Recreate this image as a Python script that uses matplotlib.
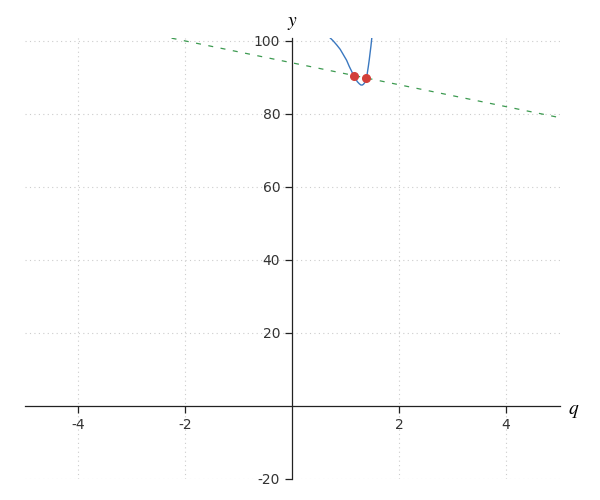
import numpy as np
import matplotlib
matplotlib.use("Agg")
import matplotlib.pyplot as plt

plt.rcParams['mathtext.fontset'] = 'stix'
plt.rcParams['axes.unicode_minus'] = False

# curve
q_curve = [0.70, 0.77, 0.835, 0.90, 0.96, 1.02, 1.07, 1.11, 1.146, 1.185, 1.22, 1.255,
           1.284, 1.31, 1.333, 1.36, 1.383, 1.405, 1.426, 1.443, 1.458, 1.475, 1.49]
y_curve = [101.0, 100.0, 98.9, 97.7, 96.2, 94.7, 93.0, 91.8, 90.7, 89.7, 88.85, 88.3,
           87.95, 87.9, 88.1, 88.6, 89.3, 91.0, 93.0, 94.8, 96.6, 98.6, 100.7]

# dashed straight line (end points)
q_line = [-5.0, 5.0]
y_line = [109.0, 79.0]

# marked intersection points
q_pts = [1.16, 1.383]
y_pts = [90.5, 89.85]

xticks = [-4, -2, 2, 4]
yticks = [-20, 20, 40, 60, 80, 100]

fig = plt.figure(figsize=(6, 5), dpi=100)
axes = fig.add_axes([0.041, 0.042, 0.8915, 0.882])

axes.plot(q_line, y_line, color='#3c9a50', lw=0.9, dashes=(4, 6))
axes.plot(q_curve, y_curve, color='#3a78c0', lw=1.0)
axes.plot(q_pts, y_pts, 'o', color='#d23f3a', ms=5.5, zorder=5)

axes.set_xlim([-5, 5])
axes.set_ylim([-20, 100.8])
axes.set_xticks(xticks)
axes.set_yticks(yticks)

axes.spines['left'].set_position(('data', 0))
axes.spines['bottom'].set_position(('data', 0))
axes.spines['top'].set_visible(False)
axes.spines['right'].set_visible(False)
for s in ['left', 'bottom']:
    axes.spines[s].set_linewidth(0.9)
    axes.spines[s].set_color('#222222')

axes.tick_params(direction='out', length=5, width=0.9, labelsize=10,
                 labelcolor='#333333', color='#222222')
axes.grid(True, linestyle=(0, (1, 3)), color='#cccccc', lw=0.8)

axes.text(5.15, -1.3, r'$q$', fontsize=14, va='center', ha='left')
axes.text(0, 102.5, r'$y$', fontsize=14, va='bottom', ha='center')

fig.savefig('out.png', dpi=100)
